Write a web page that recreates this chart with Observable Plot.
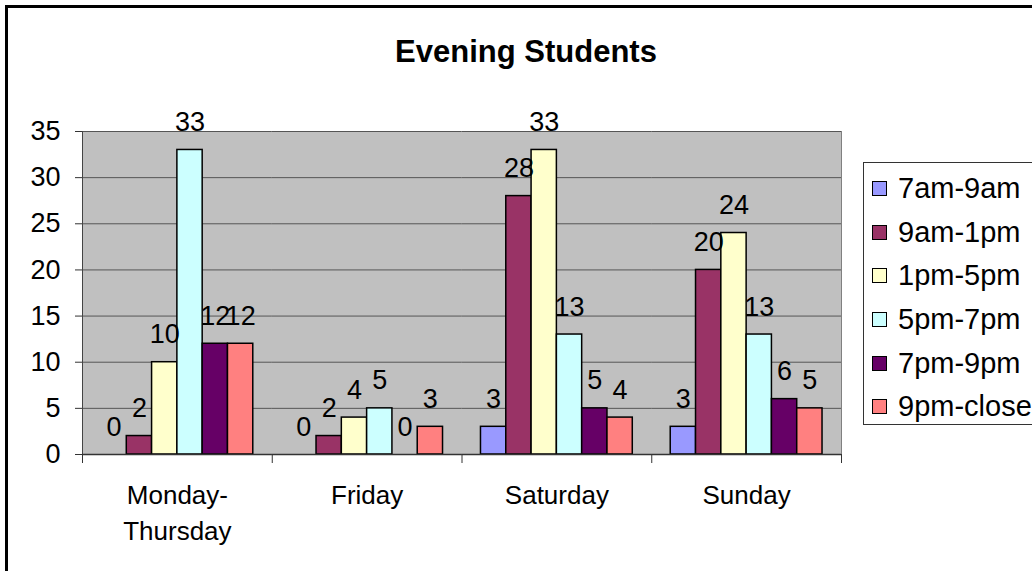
<!DOCTYPE html>
<html>
<head>
<meta charset="utf-8">
<script src="https://cdn.jsdelivr.net/npm/d3@7"></script>
<script src="https://cdn.jsdelivr.net/npm/@observablehq/plot@0.6"></script>
<style>
  html, body { margin: 0; padding: 0; background: #fff; overflow: hidden; }
  body { width: 1032px; height: 571px; position: relative; font-family: "Liberation Sans", Arial, sans-serif; }
  #border { position: absolute; left: 5px; top: 5px; width: 1200px; height: 800px; border: 3px solid #000; box-sizing: border-box; }
  #title { position: absolute; left: 0; width: 1052px; top: 34px; text-align: center; font-weight: bold; font-size: 31px; color: #000; }
  #chart { position: absolute; left: 0; top: 0; }
  #legend { position: absolute; left: 863px; top: 162px; width: 200px; height: 263px; border: 1px solid #333; box-sizing: border-box; background: #fff; padding-top: 4px; }
  .item { height: 43.6px; display: flex; align-items: center; font-size: 29px; white-space: nowrap; }
  .sw { width: 13px; height: 13px; border: 1.5px solid #000; margin-left: 8px; margin-right: 11px; flex: none; }
</style>
</head>
<body>
<div id="border"></div>
<div id="chart"></div>
<div id="title">Evening Students</div>
<div id="legend"></div>
<script>
const categories = ["Monday-Thursday", "Friday", "Saturday", "Sunday"];
const categoryLabels = ["Monday-\nThursday", "Friday", "Saturday", "Sunday"];
const seriesNames = ["7am-9am", "9am-1pm", "1pm-5pm", "5pm-7pm", "7pm-9pm", "9pm-close"];
const am7to9 = [0, 0, 3, 3];
const am9to1 = [2, 2, 28, 20];
const pm1to5 = [10, 4, 33, 24];
const pm5to7 = [33, 5, 13, 13];
const pm7to9 = [12, 0, 5, 6];
const pm9toClose = [12, 3, 4, 5];
const yTicks = [0, 5, 10, 15, 20, 25, 30, 35];

const seriesColors = ["#9999FF", "#993366", "#FFFFCC", "#CCFFFF", "#660066", "#FF8080"];
const seriesValues = [am7to9, am9to1, pm1to5, pm5to7, pm7to9, pm9toClose];

const data = [];
categories.forEach((cat, i) => {
  seriesNames.forEach((s, j) => {
    data.push({cat, series: s, value: seriesValues[j][i]});
  });
});
const labelOf = new Map(categories.map((c, i) => [c, categoryLabels[i]]));

const W = 1032, H = 571, mTop = 131, mBottom = 117, mLeft = 82, mRight = 191;
const plotH = H - mTop - mBottom;

const chart = Plot.plot({
  width: W,
  height: H,
  marginTop: mTop,
  marginBottom: mBottom,
  marginLeft: mLeft,
  marginRight: mRight,
  style: {fontFamily: "'Liberation Sans', Arial, sans-serif", fontSize: "27px", color: "#000", background: "transparent", overflow: "visible"},
  fx: {domain: categories, padding: 0, round: false, axis: null},
  x: {domain: seriesNames, paddingInner: 0, paddingOuter: 0.75, round: false, axis: null},
  y: {domain: [0, 35], axis: null},
  color: {domain: seriesNames, range: seriesColors},
  marks: [
    Plot.frame({fill: "#c0c0c0", stroke: "none", facet: "super"}),
    Plot.gridY(yTicks, {stroke: "#555", strokeOpacity: 1, strokeWidth: 1}),
    Plot.frame({anchor: "right", facet: "super", stroke: "#808080", strokeWidth: 1}),
    Plot.frame({anchor: "left", facet: "super", stroke: "#444", strokeWidth: 1}),
    Plot.frame({anchor: "left", stroke: "#333", strokeWidth: 1, insetTop: plotH, insetBottom: -8}),
    Plot.frame({anchor: "right", facet: "super", stroke: "#333", strokeWidth: 1, insetTop: plotH, insetBottom: -8}),
    Plot.barY(data, {fx: "cat", x: "series", y: "value", fill: "series", stroke: "#000", strokeWidth: 1.5, inset: 0}),
    Plot.ruleY([0], {stroke: "#333", strokeWidth: 1.5}),
    Plot.text(data, {fx: "cat", x: "series", y: "value", text: d => String(d.value), lineAnchor: "bottom", dy: -19, fontSize: 27, fill: "#000"}),
    Plot.axisY(yTicks, {tickSize: 7, tickPadding: 15, fontSize: 27, label: null, stroke: "#333"}),
    Plot.axisFx({anchor: "bottom", tickSize: 0, tickPadding: 25, fontSize: 26, lineHeight: 1.35, label: null, tickFormat: c => labelOf.get(c)})
  ]
});
document.getElementById("chart").appendChild(chart);

const legend = document.getElementById("legend");
seriesNames.forEach((s, j) => {
  const row = document.createElement("div");
  row.className = "item";
  const sw = document.createElement("span");
  sw.className = "sw";
  sw.style.background = seriesColors[j];
  const t = document.createElement("span");
  t.textContent = s;
  row.appendChild(sw);
  row.appendChild(t);
  legend.appendChild(row);
});
</script>
</body>
</html>
